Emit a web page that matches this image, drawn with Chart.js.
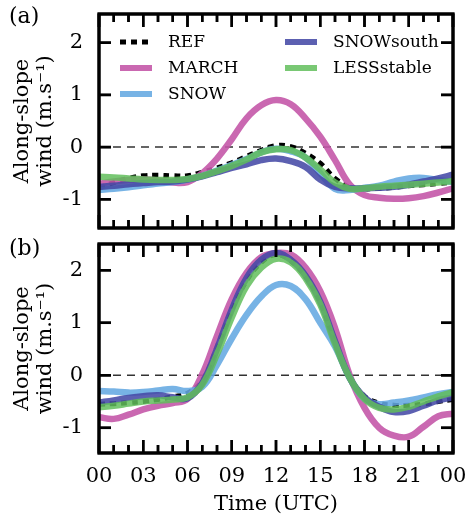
<!DOCTYPE html>
<html>
<head>
<meta charset="utf-8">
<script src="https://cdn.jsdelivr.net/npm/chart.js@4.4.0/dist/chart.umd.min.js"></script>
<style>
  body { margin: 0; background: #fff; }
  #wrap { position: relative; width: 466px; height: 517px; font-family: "DejaVu Serif", serif; }
  .panel { position: absolute; left: 0; width: 466px; }
  .panel canvas { position: absolute; left: 0; top: 0; }
  #boxA { top: 0; height: 236px; }
  #boxB { top: 236px; height: 281px; }
  .tag { position: absolute; left: 9px; font-size: 22px; color: #000; }
</style>
</head>
<body>
<div id="wrap">
  <div class="panel" id="boxA">
    <canvas id="chartA" width="466" height="236"></canvas>
    <canvas id="tickA" width="466" height="236"></canvas>
  </div>
  <div class="panel" id="boxB">
    <canvas id="chartB" width="466" height="281"></canvas>
    <canvas id="tickB" width="466" height="281"></canvas>
  </div>
  <div class="tag" style="top:3px">(a)</div>
  <div class="tag" style="top:235px">(b)</div>
</div>
<script>
// hours of the day (UTC)
const hours = [0, 1, 2, 3, 4, 5, 6, 7, 8, 9, 10, 11, 12, 13, 14, 15, 16, 17, 18, 19, 20, 21, 22, 23, 24];
const timeTicks = [0, 3, 6, 9, 12, 15, 18, 21, 24];
const timeLabels = ["00", "03", "06", "09", "12", "15", "18", "21", "00"];
const windTicks = [-1, 0, 1, 2];

// panel (a)
const refA    = [-0.78,-0.68,-0.6,-0.55,-0.54,-0.55,-0.55,-0.48,-0.4,-0.3,-0.18,-0.06,0.03,0.01,-0.12,-0.31,-0.6,-0.77,-0.8,-0.79,-0.77,-0.74,-0.72,-0.7,-0.67];
const marchA  = [-0.7,-0.66,-0.63,-0.62,-0.64,-0.68,-0.67,-0.5,-0.22,0.15,0.55,0.8,0.9,0.82,0.55,0.2,-0.25,-0.72,-0.92,-0.97,-0.99,-0.98,-0.94,-0.87,-0.79];
const snowA   = [-0.82,-0.8,-0.77,-0.73,-0.7,-0.67,-0.62,-0.55,-0.45,-0.34,-0.23,-0.1,-0.03,-0.08,-0.2,-0.5,-0.8,-0.82,-0.78,-0.74,-0.66,-0.6,-0.59,-0.63,-0.67];
const southA  = [-0.76,-0.74,-0.71,-0.69,-0.67,-0.66,-0.62,-0.56,-0.48,-0.4,-0.33,-0.25,-0.22,-0.27,-0.38,-0.62,-0.76,-0.79,-0.79,-0.78,-0.76,-0.72,-0.66,-0.6,-0.53];
const lessA   = [-0.57,-0.58,-0.6,-0.62,-0.63,-0.63,-0.61,-0.55,-0.46,-0.36,-0.24,-0.1,-0.04,-0.06,-0.2,-0.43,-0.68,-0.8,-0.79,-0.76,-0.74,-0.72,-0.7,-0.68,-0.65];

// panel (b)
const refB    = [-0.55,-0.54,-0.52,-0.5,-0.46,-0.41,-0.34,-0.1,0.55,1.25,1.8,2.15,2.3,2.18,1.88,1.4,0.6,-0.05,-0.4,-0.53,-0.57,-0.57,-0.55,-0.5,-0.46];
const marchB  = [-0.8,-0.83,-0.75,-0.65,-0.58,-0.53,-0.45,0.02,0.75,1.45,1.95,2.25,2.33,2.3,2.05,1.6,0.9,0.0,-0.62,-1.0,-1.15,-1.17,-0.98,-0.78,-0.73];
const snowB   = [-0.3,-0.31,-0.33,-0.32,-0.29,-0.26,-0.3,-0.22,0.2,0.7,1.15,1.5,1.72,1.7,1.45,1.0,0.55,-0.05,-0.45,-0.55,-0.52,-0.48,-0.42,-0.36,-0.32];
const southB  = [-0.52,-0.48,-0.43,-0.4,-0.38,-0.42,-0.44,-0.15,0.5,1.25,1.85,2.2,2.33,2.2,1.9,1.4,0.65,-0.05,-0.42,-0.6,-0.7,-0.68,-0.58,-0.48,-0.42];
const lessB   = [-0.61,-0.58,-0.54,-0.5,-0.48,-0.46,-0.42,-0.18,0.4,1.1,1.7,2.05,2.22,2.15,1.85,1.35,0.6,-0.05,-0.45,-0.62,-0.65,-0.6,-0.5,-0.4,-0.32];

Chart.defaults.font.family = '"DejaVu Serif", serif';
Chart.defaults.color = "#000";

function pts(values) {
  return values.map((v, i) => ({ x: hours[i], y: v }));
}

function makeDatasets(ref, march, snow, south, less) {
  return [
    { label: "REF", data: pts(ref), borderColor: "#000", borderWidth: 5, borderDash: [6, 5], order: 5 },
    { label: "MARCH", data: pts(march), borderColor: "rgba(196, 88, 168, 0.9)", borderWidth: 6.5, order: 4 },
    { label: "SNOW", data: pts(snow), borderColor: "rgba(100, 168, 225, 0.88)", borderWidth: 6.5, order: 3 },
    { label: "SNOWsouth", data: pts(south), borderColor: "rgba(70, 74, 166, 0.88)", borderWidth: 6.5, order: 2 },
    { label: "LESSstable", data: pts(less), borderColor: "rgba(98, 190, 92, 0.85)", borderWidth: 6.5, order: 1 },
  ];
}

// box frame and inward ticks on all four sides, placed with the chart's own scales
function drawTicks(chart, ctx) {
  const a = chart.chartArea;
  const sx = chart.scales.x;
  const sy = chart.scales.y;
  ctx.save();
  ctx.setLineDash([]);
  ctx.globalAlpha = 1;
  ctx.globalCompositeOperation = "source-over";
  ctx.fillStyle = "#000";
  for (let i = 0; i < hours.length; i++) {
    const px = sx.getPixelForValue(hours[i]);
    const len = hours[i] % 3 === 0 ? 13 : 8;
    ctx.fillRect(px - 1.25, a.bottom - len, 2.5, len);
    ctx.fillRect(px - 1.25, a.top, 2.5, len);
  }
  for (let i = 0; i < windTicks.length; i++) {
    const py = sy.getPixelForValue(windTicks[i]);
    ctx.fillRect(a.left, py - 1.25, 12, 2.5);
    ctx.fillRect(a.right - 12, py - 1.25, 12, 2.5);
  }
  ctx.strokeStyle = "#000";
  ctx.lineWidth = 3;
  ctx.strokeRect(a.left, a.top, a.right - a.left, a.bottom - a.top);
  ctx.restore();
}

// dashed zero line under the curves, frame on top
const framePlugin = {
  id: "frame",
  beforeDatasetsDraw(chart) {
    const { ctx, chartArea: a, scales } = chart;
    const y0 = scales.y.getPixelForValue(0);
    ctx.save();
    ctx.strokeStyle = "#333";
    ctx.lineWidth = 1.5;
    ctx.setLineDash([8, 6]);
    ctx.beginPath();
    ctx.moveTo(a.left, y0);
    ctx.lineTo(a.right, y0);
    ctx.stroke();
    ctx.restore();
  },
  afterDraw(chart) {
    drawTicks(chart, chart.ctx);
  },
};

// two-column legend inside panel (a)
const legendPlugin = {
  id: "boxLegend",
  afterDatasetsDraw(chart) {
    const { ctx } = chart;
    const slots = [[120, 42], [120, 68], [120, 94], [285, 42], [285, 68]];
    ctx.save();
    ctx.font = '17px "DejaVu Serif"';
    ctx.textBaseline = "middle";
    ctx.fillStyle = "#000";
    chart.data.datasets.forEach((ds, i) => {
      const [x, y] = slots[i];
      ctx.strokeStyle = ds.borderColor;
      ctx.lineWidth = ds.label === "REF" ? 5 : 6;
      ctx.setLineDash(ds.borderDash || []);
      ctx.beginPath();
      ctx.moveTo(x, y);
      ctx.lineTo(x + 32, y);
      ctx.stroke();
      ctx.setLineDash([]);
      ctx.fillText(ds.label, x + 48, y + 1);
    });
    ctx.restore();
  },
};

function yScale(min, max) {
  return {
    type: "linear",
    min: min,
    max: max,
    afterBuildTicks: (s) => { s.ticks = windTicks.map((v) => ({ value: v })); },
    afterFit: (s) => { s.width = 99; s.paddingTop = 0; s.paddingBottom = 0; },
    grid: { display: false },
    border: { display: false },
    ticks: { padding: 8, font: { size: 21 }, callback: (v) => String(v) },
    title: {
      display: true,
      text: ["Along-slope", "wind (m.s\u207B\u00B9)"],
      font: { size: 21, lineHeight: 1.1 },
      padding: { top: 11, bottom: 0 },
    },
  };
}

const common = {
  responsive: false,
  animation: false,
  events: [],
  elements: { point: { radius: 0 }, line: { tension: 0.4, fill: false } },
  plugins: { legend: { display: false }, tooltip: { enabled: false } },
};

const chartA = new Chart(document.getElementById("chartA"), {
  type: "line",
  data: { datasets: makeDatasets(refA, marchA, snowA, southA, lessA) },
  options: {
    ...common,
    layout: { padding: { left: 0, right: 13, top: 14, bottom: 8 } },
    scales: {
      x: { type: "linear", min: 0, max: 24, display: false },
      y: yScale(-1.55, 2.55),
    },
  },
  plugins: [legendPlugin, framePlugin],
});

const chartB = new Chart(document.getElementById("chartB"), {
  type: "line",
  data: { datasets: makeDatasets(refB, marchB, snowB, southB, lessB) },
  options: {
    ...common,
    layout: { padding: { left: 0, right: 13, top: 8, bottom: 0 } },
    scales: {
      x: {
        type: "linear",
        min: 0,
        max: 24,
        afterBuildTicks: (s) => { s.ticks = timeTicks.map((v) => ({ value: v })); },
        afterFit: (s) => { s.height = 64; s.paddingLeft = 0; s.paddingRight = 0; },
        grid: { display: false },
        border: { display: false },
        ticks: {
          padding: 3,
          autoSkip: false,
          maxRotation: 0,
          font: { size: 21 },
          callback: (v, i) => timeLabels[i],
        },
        title: { display: true, text: "Time (UTC)", font: { size: 21, lineHeight: 1.1 }, padding: { top: 0, bottom: 1 } },
      },
      y: yScale(-1.48, 2.5),
    },
  },
  plugins: [framePlugin],
});

// ticks again on clean overlay canvases, same scales
drawTicks(chartA, document.getElementById("tickA").getContext("2d"));
drawTicks(chartB, document.getElementById("tickB").getContext("2d"));
</script>
</body>
</html>
